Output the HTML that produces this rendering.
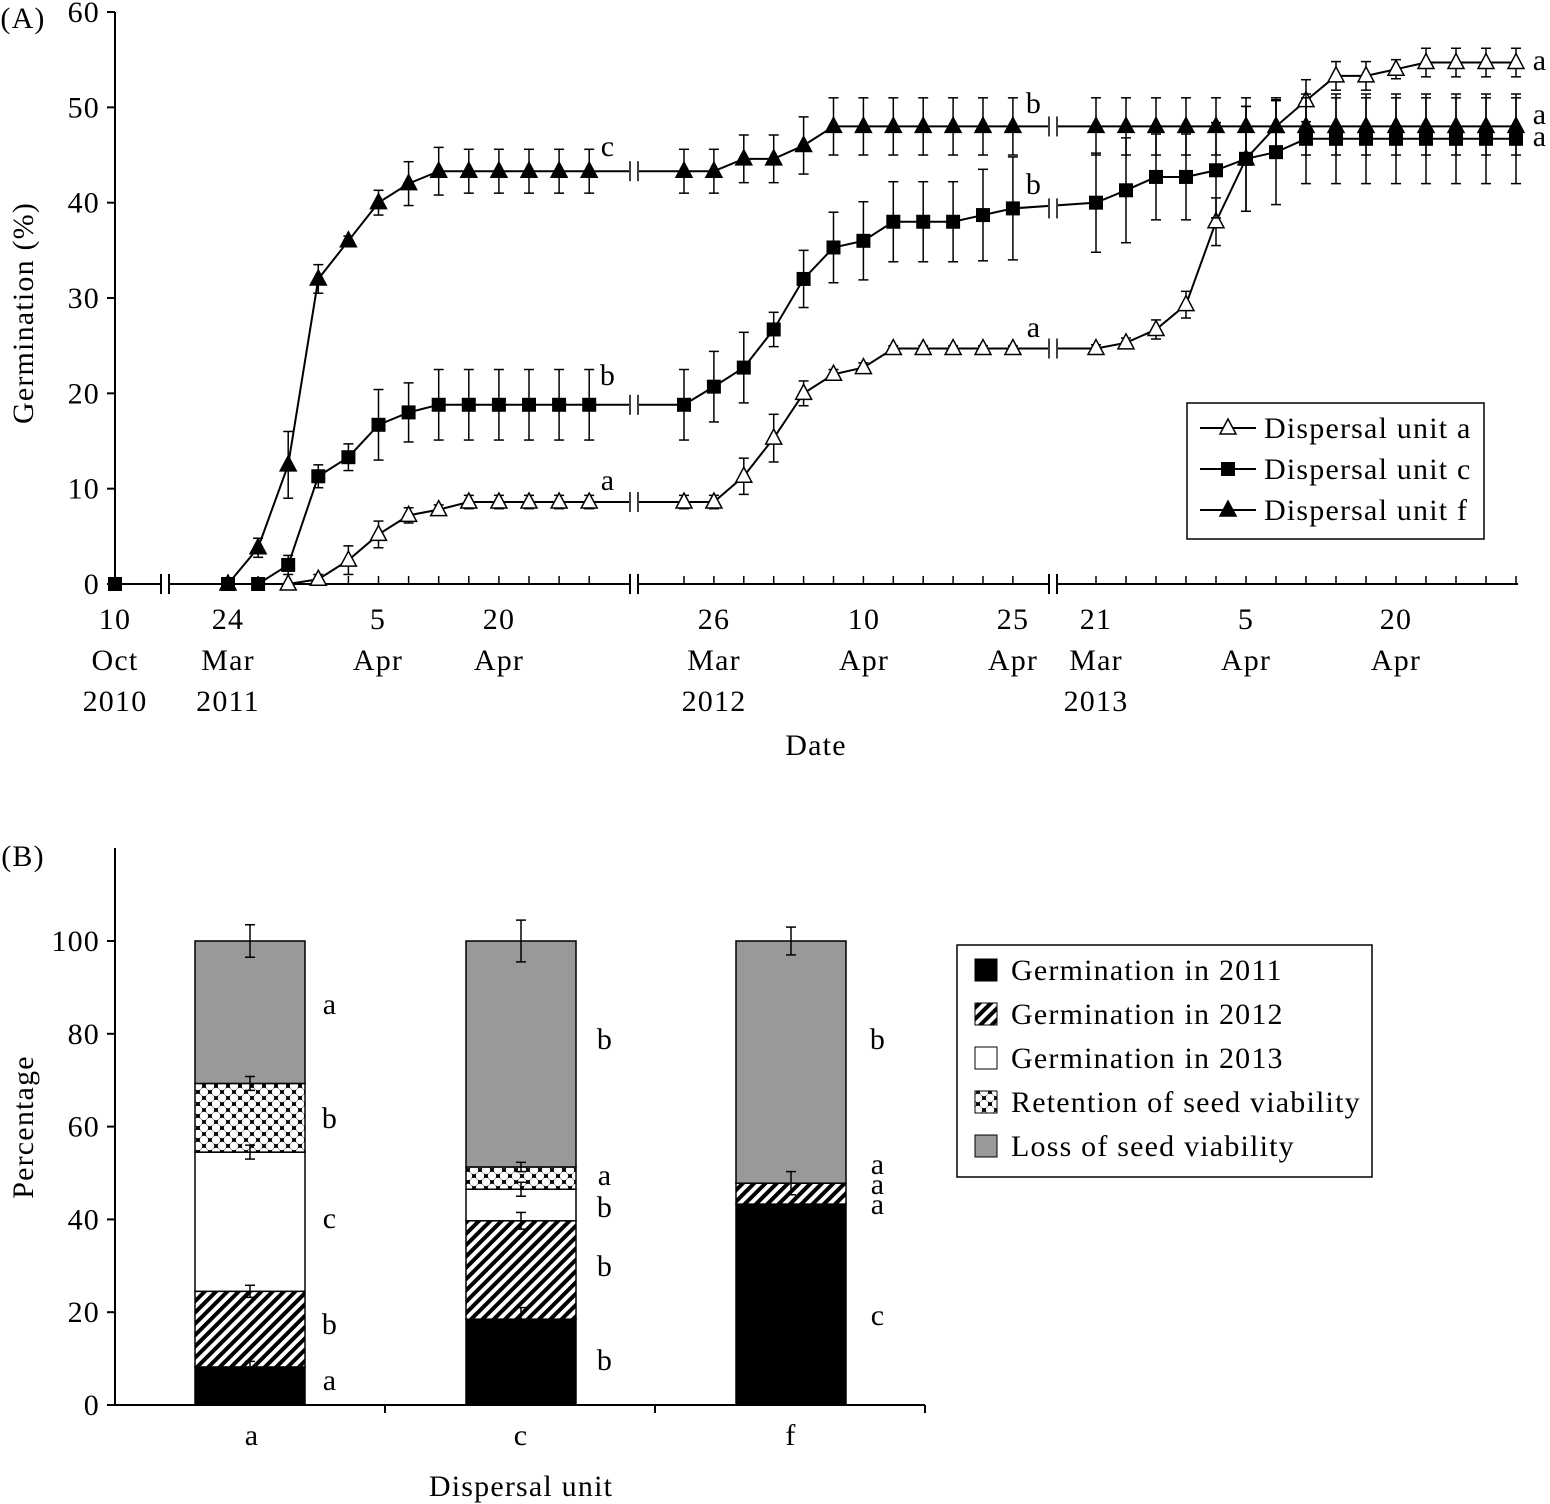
<!DOCTYPE html>
<html><head><meta charset="utf-8"><style>
body{margin:0;background:#fff}
svg{display:block;font-family:"Liberation Serif",serif}
text{letter-spacing:1.2px}
</style></head><body>
<svg id="s" width="1550" height="1504" viewBox="0 0 1550 1504" xmlns="http://www.w3.org/2000/svg">
<defs>
<pattern id="hatch" width="8" height="8" patternUnits="userSpaceOnUse" patternTransform="rotate(45)">
<rect width="8" height="8" fill="#fff"/><rect width="4" height="8" fill="#000"/></pattern>
<pattern id="chk" width="12" height="12" patternUnits="userSpaceOnUse">
<rect width="12" height="12" fill="#000"/><circle cx="6" cy="6" r="4.2" fill="#fff"/><circle cx="0" cy="0" r="4.2" fill="#fff"/><circle cx="12" cy="0" r="4.2" fill="#fff"/><circle cx="0" cy="12" r="4.2" fill="#fff"/><circle cx="12" cy="12" r="4.2" fill="#fff"/></pattern>
</defs>
<g id="g" stroke="#000" fill="none" stroke-width="2"></g>
</svg>
<script>
const g=document.getElementById('g');let h='';
const FS=30;
const Y=v=>584-v*9.533;
function L(x1,y1,x2,y2,w){h+=`<line x1="${x1}" y1="${y1}" x2="${x2}" y2="${y2}"${w?` stroke-width="${w}"`:''}/>`}
function T(x,y,t,s,a){h+=`<text x="${x}" y="${y}" font-size="${s||FS}" fill="#000" stroke="none" text-anchor="${a||'middle'}">${t}</text>`}
L(115,12,115,584);
for(let v=0;v<=60;v+=10){L(107,Y(v),115,Y(v));T(100,Y(v)+10,v,FS,'end')}
L(115,584,1518,584);
const brk=[165,634,1053];
brk.forEach(b=>{h+=`<rect x="${b-5}" y="574" width="10" height="20" fill="#fff" stroke="none"/>`;L(b-4,574,b-4,594);L(b+4,574,b+4,594)});
const xs1=[],xs2=[],xs3=[];
for(let i=0;i<13;i++)xs1.push(228+i*30.1);
for(let i=0;i<12;i++)xs2.push(684+i*29.9);
for(let i=0;i<15;i++)xs3.push(1096+i*30);
[...xs1,...xs2,...xs3].forEach(x=>L(x,584,x,576,1.5));
const f=[[0,3.8,12.5,32,36,40,42,43.3,43.3,43.3,43.3,43.3,43.3],[43.3,43.3,44.6,44.6,46,48,48,48,48,48,48,48],Array(15).fill(48)];
const fe=[[0,1,3.5,1.5,0.5,1.3,2.3,2.5,2.3,2.3,2.3,2.3,2.3],[2.3,2.3,2.5,2.5,3,3,3,3,3,3,3,3],Array(15).fill(3)];
const c=[[0,0,2,11.3,13.3,16.7,18,18.8,18.8,18.8,18.8,18.8,18.8],[18.8,20.7,22.7,26.7,32,35.3,36,38,38,38,38.7,39.4],[40,41.3,42.7,42.7,43.4,44.6,45.3,46.7,46.7,46.7,46.7,46.7,46.7,46.7,46.7]];
const ce=[[0,0,1,1.2,1.4,3.7,3.1,3.7,3.7,3.7,3.7,3.7,3.7],[3.7,3.7,3.7,1.8,3,3.7,4.1,4.2,4.2,4.2,4.8,5.4],[5.2,5.5,4.5,4.5,5,5.5,5.5,4.7,4.7,4.7,4.7,4.7,4.7,4.7,4.7]];
const a=[[null,null,0,0.5,2.5,5.2,7.2,7.8,8.6,8.6,8.6,8.6,8.6],[8.6,8.6,11.3,15.3,20,22,22.7,24.7,24.7,24.7,24.7,24.7],[24.7,25.3,26.7,29.3,38,44.6,48,50.7,53.3,53.3,54,54.7,54.7,54.7,54.7]];
const ae=[[0,0,0,0.5,1.5,1.4,0.8,0.5,0.7,0.7,0.7,0.7,0.7],[0.7,0.7,1.9,2.5,1.3,0.5,0.5,0.3,0.3,0.3,0.3,0.3],[0.4,0.5,1,1.4,2.5,5.5,2.7,2.2,1.5,1.5,1,1.5,1.5,1.5,1.5]];
const XS=[xs1,xs2,xs3];
function series(d,e,kind){
 let pts=[];
 d.forEach((arr,k)=>arr.forEach((v,i)=>{if(v!==null)pts.push([XS[k][i],v,e[k][i]])}));
 h+=`<polyline stroke-width="2" points="${pts.map(p=>p[0]+','+Y(p[1])).join(' ')}"/>`;
 pts.forEach(p=>{if(p[2]>0.2){const x=p[0];L(x,Y(p[1]+p[2]),x,Y(p[1]-p[2]),1.5);L(x-5,Y(p[1]+p[2]),x+5,Y(p[1]+p[2]),1.5);L(x-5,Y(p[1]-p[2]),x+5,Y(p[1]-p[2]),1.5)}});
 pts.forEach(p=>mk(p[0],Y(p[1]),kind));
 [634,1053].forEach(b=>{const p1=pts.filter(p=>p[0]<b).pop();const yy=Y(p1[1]);h+=`<rect x="${b-5}" y="${yy-10}" width="10" height="20" fill="#fff" stroke="none"/>`;L(b-4,yy-10,b-4,yy+10,1.5);L(b+4,yy-10,b+4,yy+10,1.5);});
}
function mk(x,y,k){
 if(k=='s')h+=`<rect x="${x-7}" y="${y-7}" width="14" height="14" fill="#000" stroke="none"/>`;
 else h+=`<polygon points="${x},${y-9} ${x-8},${y+6} ${x+8},${y+6}" fill="${k=='ft'?'#000':'#fff'}" stroke-width="1.5"/>`;
}
series(a,ae,'ot');series(c,ce,'s');series(f,fe,'ft');
mk(115,584,'s');
T(608,156,'c');T(608,385,'b');T(608,490,'a');
T(1034,113,'b');T(1034,194,'b');T(1034,337,'a');
T(1540,70,'a');T(1540,124,'a');T(1540,146,'a');
[[115,['10','Oct','2010']],[228,['24','Mar','2011']],[378,['5','Apr']],[499,['20','Apr']],[714,['26','Mar','2012']],[864,['10','Apr']],[1013,['25','Apr']],[1096,['21','Mar','2013']],[1246,['5','Apr']],[1396,['20','Apr']]].forEach(([x,t])=>t.forEach((s,i)=>T(x,629+i*41,s)));
T(816,755,'Date');T(23,28,'(A)',FS);
h+=`<text x="33" y="313" font-size="${FS}" fill="#000" stroke="none" text-anchor="middle" transform="rotate(-90 33 313)">Germination (%)</text>`;
h+=`<rect x="1187" y="403" width="297" height="136" stroke-width="1.5"/>`;
[['ot',428,'Dispersal unit a'],['s',469,'Dispersal unit c'],['ft',510,'Dispersal unit f']].forEach(([k,y,t])=>{L(1200,y,1256,y);mk(1228,y,k);T(1264,y+10,t,FS,'start')});
const YB=v=>1405-v*4.64;
L(115,848,115,1405);L(115,1405,925,1405);
for(let v=0;v<=100;v+=20){L(107,YB(v),115,YB(v));T(100,YB(v)+10,v,FS,'end')}
[385,655,925].forEach(x=>L(x,1405,x,1413));
const fills=['#000','url(#hatch)','#fff','url(#chk)','#999'];
const bars=[[195,[0,8.2,24.5,54.5,69.3,100],[0,1.2,1.3,1.5,1.5,3.5]],[466,[0,18.5,39.7,46.5,51.3,100],[0,2.5,1.8,1.5,1,4.5]],[736,[0,43.3,47.8,47.8,47.8,100],[0,0,2.5,0,0,3]]];
bars.forEach(([x,b,e])=>{for(let i=0;i<5;i++){if(b[i+1]>b[i])h+=`<rect x="${x}" y="${YB(b[i+1])}" width="110" height="${YB(b[i])-YB(b[i+1])}" fill="${fills[i]}" stroke-width="1.5"/>`}
 for(let i=1;i<6;i++)if(e[i]>0){const cx=x+55,y1=YB(b[i]+e[i]),y2=YB(b[i]-e[i]);L(cx,y1,cx,y2,1.5);L(cx-5,y1,cx+5,y1,1.5);L(cx-5,y2,cx+5,y2,1.5)}});
[[330,[[1390,'a'],[1334,'b'],[1228,'c'],[1128,'b'],[1014,'a']]],[605,[[1370,'b'],[1276,'b'],[1217,'b'],[1185,'a'],[1049,'b']]],[878,[[1325,'c'],[1214,'a'],[1194,'a'],[1174,'a'],[1049,'b']]]].forEach(([x,l])=>l.forEach(([y,t])=>T(x,y,t)));
T(252,1445,'a');T(521,1445,'c');T(791,1445,'f');T(521,1496,'Dispersal unit');T(23,866,'(B)',FS);
h+=`<text x="33" y="1127" font-size="${FS}" fill="#000" stroke="none" text-anchor="middle" transform="rotate(-90 33 1127)">Percentage</text>`;
h+=`<rect x="957" y="945" width="415" height="232" stroke-width="1.5"/>`;
['Germination in 2011','Germination in 2012','Germination in 2013','Retention of seed viability','Loss of seed viability'].forEach((t,i)=>{const y=970+i*44;h+=`<rect x="975" y="${y-11}" width="22" height="22" fill="${fills[i]}" stroke-width="1"/>`;T(1011,y+10,t,FS,'start')});
g.innerHTML=h;
</script>
</body></html>
